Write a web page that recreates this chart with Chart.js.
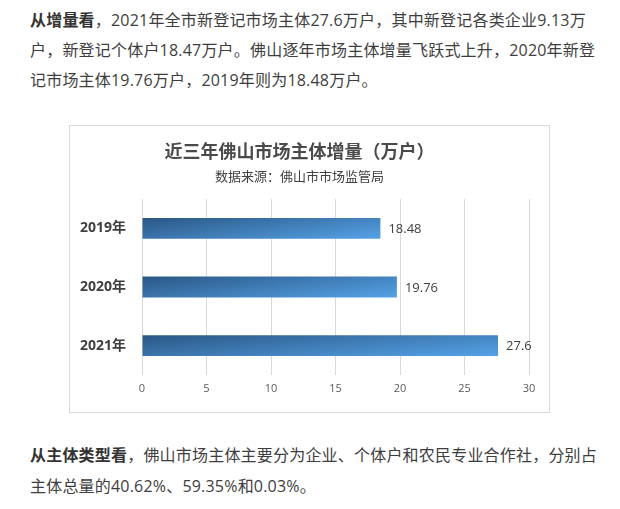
<!DOCTYPE html>
<html lang="zh">
<head>
<meta charset="UTF-8">
<title>佛山市场主体增量</title>
<script src="https://cdn.jsdelivr.net/npm/chart.js"></script>
<style>
  body { margin: 0; background: #fff; width: 620px; height: 509px; position: relative; overflow: hidden;
         font-family: "Open Sans", "Noto Sans CJK SC", sans-serif; color: #3e3e3e; }
  .para { position: absolute; left: 30px; font-size: 16px; white-space: nowrap; letter-spacing: 0.2px; }
  .para b { color: #333; }
  #top { top: 5px; line-height: 30px; }
  #bottom { top: 440px; line-height: 31px; }
  #box { position: absolute; left: 69px; top: 125px; width: 479px; height: 286px; border: 1px solid #d9d9d9; }
</style>
</head>
<body>

<div class="para" id="top">
  <b>从增量看</b>，2021年全市新登记市场主体27.6万户，其中新登记各类企业9.13万<br>
  户，新登记个体户18.47万户。佛山逐年市场主体增量飞跃式上升，2020年新登<br>
  记市场主体19.76万户，2019年则为18.48万户。
</div>

<div id="box"><canvas id="chart" width="479" height="286"></canvas></div>

<div class="para" id="bottom">
  <b>从主体类型看</b>，佛山市场主体主要分为企业、个体户和农民专业合作社，分别占<br>
  主体总量的40.62%、59.35%和0.03%。
</div>

<script>
// data
const years = ['2019年', '2020年', '2021年'];
const increase = [18.48, 19.76, 27.6];
const xTicks = [0, 5, 10, 15, 20, 25, 30];

const textFont = '"Open Sans", "Noto Sans CJK SC", sans-serif';

// gradient per bar: dark top-left, lighter bottom-right
function barFill(ctx) {
  const chart = ctx.chart;
  if (!chart.chartArea || ctx.type !== 'data') return '#3f7fbf';
  const xs = chart.scales.x, ys = chart.scales.y;
  const x0 = xs.getPixelForValue(0);
  const x1 = xs.getPixelForValue(increase[ctx.dataIndex]);
  const yc = ys.getPixelForValue(ctx.dataIndex);
  const half = 11;
  const a = 0.6 / Math.max(x1 - x0, 1), b = 0.4 / (2 * half);
  const n = a * a + b * b;
  const g = chart.ctx.createLinearGradient(x0, yc - half, x0 + a / n, yc - half + b / n);
  g.addColorStop(0, '#2a5684');
  g.addColorStop(1, '#55a3e8');
  return g;
}

// value labels at the end of each bar
const valueLabels = {
  id: 'valueLabels',
  afterDatasetsDraw(chart) {
    const ctx = chart.ctx;
    ctx.save();
    ctx.font = '13px ' + textFont;
    ctx.fillStyle = '#404040';
    ctx.textBaseline = 'middle';
    chart.getDatasetMeta(0).data.forEach((bar, i) => {
      ctx.fillText(String(increase[i]), bar.x + 8, bar.y + 1);
    });
    ctx.restore();
  }
};

new Chart(document.getElementById('chart'), {
  type: 'bar',
  data: {
    labels: years,
    datasets: [{
      data: increase,
      backgroundColor: barFill,
      borderWidth: 0,
      categoryPercentage: 1,
      barPercentage: 0.355
    }]
  },
  options: {
    indexAxis: 'y',
    responsive: false,
    animation: false,
    events: [],
    layout: { padding: { left: 0, right: 20, top: 0, bottom: 10 } },
    plugins: {
      legend: { display: false },
      tooltip: { enabled: false },
      title: {
        display: true,
        text: '近三年佛山市场主体增量（万户）',
        color: '#4a4a4a',
        font: { family: textFont, size: 18, weight: 'bold' },
        padding: { top: 16, bottom: 3 }
      },
      subtitle: {
        display: true,
        text: '数据来源：佛山市市场监管局',
        color: '#404040',
        font: { family: textFont, size: 13 },
        padding: { top: 3, bottom: 14 }
      }
    },
    scales: {
      x: {
        min: 0,
        max: 30,
        afterBuildTicks(scale) { scale.ticks = xTicks.map(v => ({ value: v })); },
        grid: { color: '#d9d9d9', lineWidth: 1, drawTicks: false },
        border: { display: false },
        ticks: { color: '#595959', padding: 7, font: { family: textFont, size: 11 } }
      },
      y: {
        grid: { display: false, drawTicks: false },
        border: { display: false },
        afterFit(scale) { scale.width = 72; },
        ticks: { color: '#404040', padding: 16, font: { family: textFont, size: 14, weight: 'bold' } }
      }
    }
  },
  plugins: [valueLabels]
});
</script>
</body>
</html>
